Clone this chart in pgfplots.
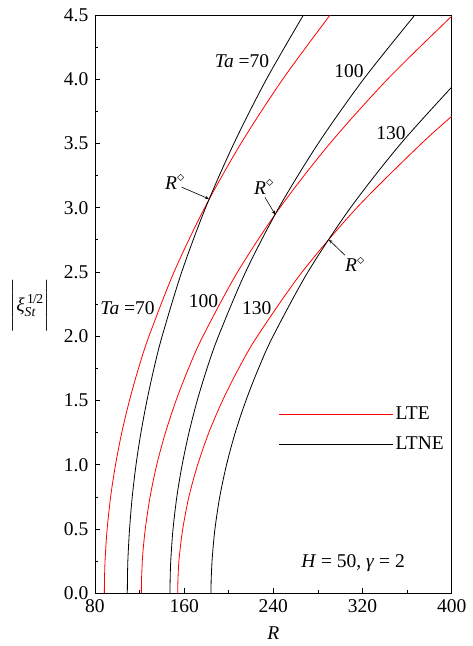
\documentclass[border=0pt]{standalone}
\usepackage{amsmath}
\usepackage{fontspec}
\setmainfont{Liberation Serif}
\usepackage{pgfplots}
\pgfplotsset{compat=1.18}
\begin{document}
\fontsize{19.5}{23}\selectfont
\begin{tikzpicture}
\begin{axis}[
  scale only axis, width=356.7pt, height=578.3pt,
  xmin=80, xmax=400, ymin=0, ymax=4.5,
  xtick={80,160,240,320,400},
  ytick={0,0.5,1,1.5,2,2.5,3,3.5,4,4.5},
  minor x tick num=1, minor y tick num=1,
  tick pos=left, tick align=inside,
  major tick length=5pt, minor tick length=3pt,
  axis line style={line width=0.9pt},
  every tick/.style={black, line width=0.8pt},
  /pgf/number format/assume math mode=true,
  yticklabel style={/pgf/number format/.cd, fixed, fixed zerofill, precision=1},
  ticklabel style={font=\fontsize{19.5}{23}\selectfont},
  xlabel={\textit{R}},
  xlabel style={font=\fontsize{19.5}{23}\selectfont},
  ylabel={$\biggl|\text{\textit{ξ}}^{\,\text{1\kern-0.05em/\kern-0.05em2}}_{\text{\textit{St}}}\biggr|$},
  ylabel style={font=\fontsize{19.5}{23}\selectfont, rotate=-90, at={(rel axis cs:0,0.497)}, anchor=center, xshift=-65pt},
  legend style={at={(rel axis cs:0.515,0.326)}, anchor=north west, draw=none, fill=none,
    inner sep=0pt, font=\fontsize{19.5}{23}\selectfont, row sep=10pt},
  legend cell align=left,
  legend image code/.code={\draw[#1] (0pt,0pt) -- (114pt,0pt);},
  clip=true,
]
% Ta = 70
\addplot[red, line width=0.8pt, smooth] coordinates {
(88.4,0) (88.5,0.1) (88.8,0.2) (89.3,0.3) (90.9,0.5) (94.0,0.75) (98.4,1.0) (104.0,1.25)
(110.9,1.5) (119.0,1.75) (128.4,2.0) (150.9,2.5) (178.4,3.0) (210.9,3.5) (248.4,4.0) (290.9,4.5)};
\addlegendentry{LTE}
\addplot[black, line width=0.8pt, smooth] coordinates {
(109.0,0) (109.1,0.1) (109.3,0.2) (109.7,0.3) (111.0,0.5) (113.4,0.75) (116.8,1.0) (121.2,1.25)
(126.6,1.5) (132.9,1.75) (140.2,2.0) (157.8,2.5) (179.2,3.0) (204.6,3.5) (233.8,4.0) (267.0,4.5)};
\addlegendentry{LTNE}
% Ta = 100
\addplot[red, line width=0.8pt, smooth, forget plot] coordinates {
(121.6,0) (121.7,0.1) (122.2,0.2) (122.8,0.3) (125.1,0.5) (129.4,0.75) (135.4,1.0) (143.2,1.25)
(152.7,1.5) (163.9,1.75) (176.8,2.0) (207.9,2.5) (245.8,3.0) (290.7,3.5) (342.4,4.0) (401.1,4.5)};
\addplot[black, line width=0.8pt, smooth, forget plot] coordinates {
(147.3,0) (147.4,0.1) (147.7,0.2) (148.3,0.3) (150.0,0.5) (153.4,0.75) (158.2,1.0) (164.3,1.25)
(171.7,1.5) (180.5,1.75) (190.7,2.0) (215.1,2.5) (244.9,3.0) (280.2,3.5) (320.9,4.0) (367.0,4.5)};
% Ta = 130
\addplot[red, line width=0.8pt, smooth, forget plot] coordinates {
(154.2,0) (154.4,0.1) (154.9,0.2) (155.8,0.3) (158.7,0.5) (164.2,0.75) (172.1,1.0) (182.1,1.25)
(194.4,1.5) (208.9,1.75) (225.6,2.0) (265.8,2.5) (314.9,3.0) (372.9,3.5) (405.2,3.75)};
\addplot[black, line width=0.8pt, smooth, forget plot] coordinates {
(184.1,0) (184.2,0.1) (184.7,0.2) (185.4,0.3) (187.6,0.5) (191.9,0.75) (198.0,1.0) (205.8,1.25)
(215.4,1.5) (226.7,1.75) (239.7,2.0) (271.0,2.5) (309.2,3.0) (354.4,3.5) (406.5,4.0)};

\coordinate (bl) at (rel axis cs:0,0);
\coordinate (tr) at (rel axis cs:1,1);
\coordinate (a1) at (axis cs:211.9,4.14);
\coordinate (a2) at (axis cs:307.9,4.06);
\coordinate (a3) at (axis cs:345.5,3.58);
\coordinate (b1) at (axis cs:109.2,2.22);
\coordinate (b2) at (axis cs:177.3,2.27);
\coordinate (b3) at (axis cs:225.0,2.22);
\coordinate (r1) at (axis cs:151.8,3.20);
\coordinate (r2) at (axis cs:231.6,3.16);
\coordinate (r3) at (axis cs:313.2,2.555);
\coordinate (s1) at (axis cs:157.8,3.16);
\coordinate (e1) at (axis cs:182.0,3.07);
\coordinate (s2) at (axis cs:232.5,3.08);
\coordinate (e2) at (axis cs:241.5,2.95);
\coordinate (s3) at (axis cs:304.3,2.63);
\coordinate (e3) at (axis cs:290.0,2.75);
\coordinate (hg) at (axis cs:311.5,0.233);
\end{axis}
\path (bl) ++(-95pt,-52.7pt);
\path (tr) ++(19.3pt,15pt);
\node at (a1) {\textit{Ta} =70};
\node at (a2) {100};
\node at (a3) {130};
\node at (b1) {\textit{Ta} =70};
\node at (b2) {100};
\node at (b3) {130};
\node at (r1) {\textit{R}$^{\diamond}$};
\node at (r2) {\textit{R}$^{\diamond}$};
\node at (r3) {\textit{R}$^{\diamond}$};
\draw[-stealth, line width=0.6pt] (s1) -- (e1);
\draw[-stealth, line width=0.6pt] (s2) -- (e2);
\draw[-stealth, line width=0.6pt] (s3) -- (e3);
\node at (hg) {\textit{H} = 50, \textit{γ} = 2};
\end{tikzpicture}
\end{document}
